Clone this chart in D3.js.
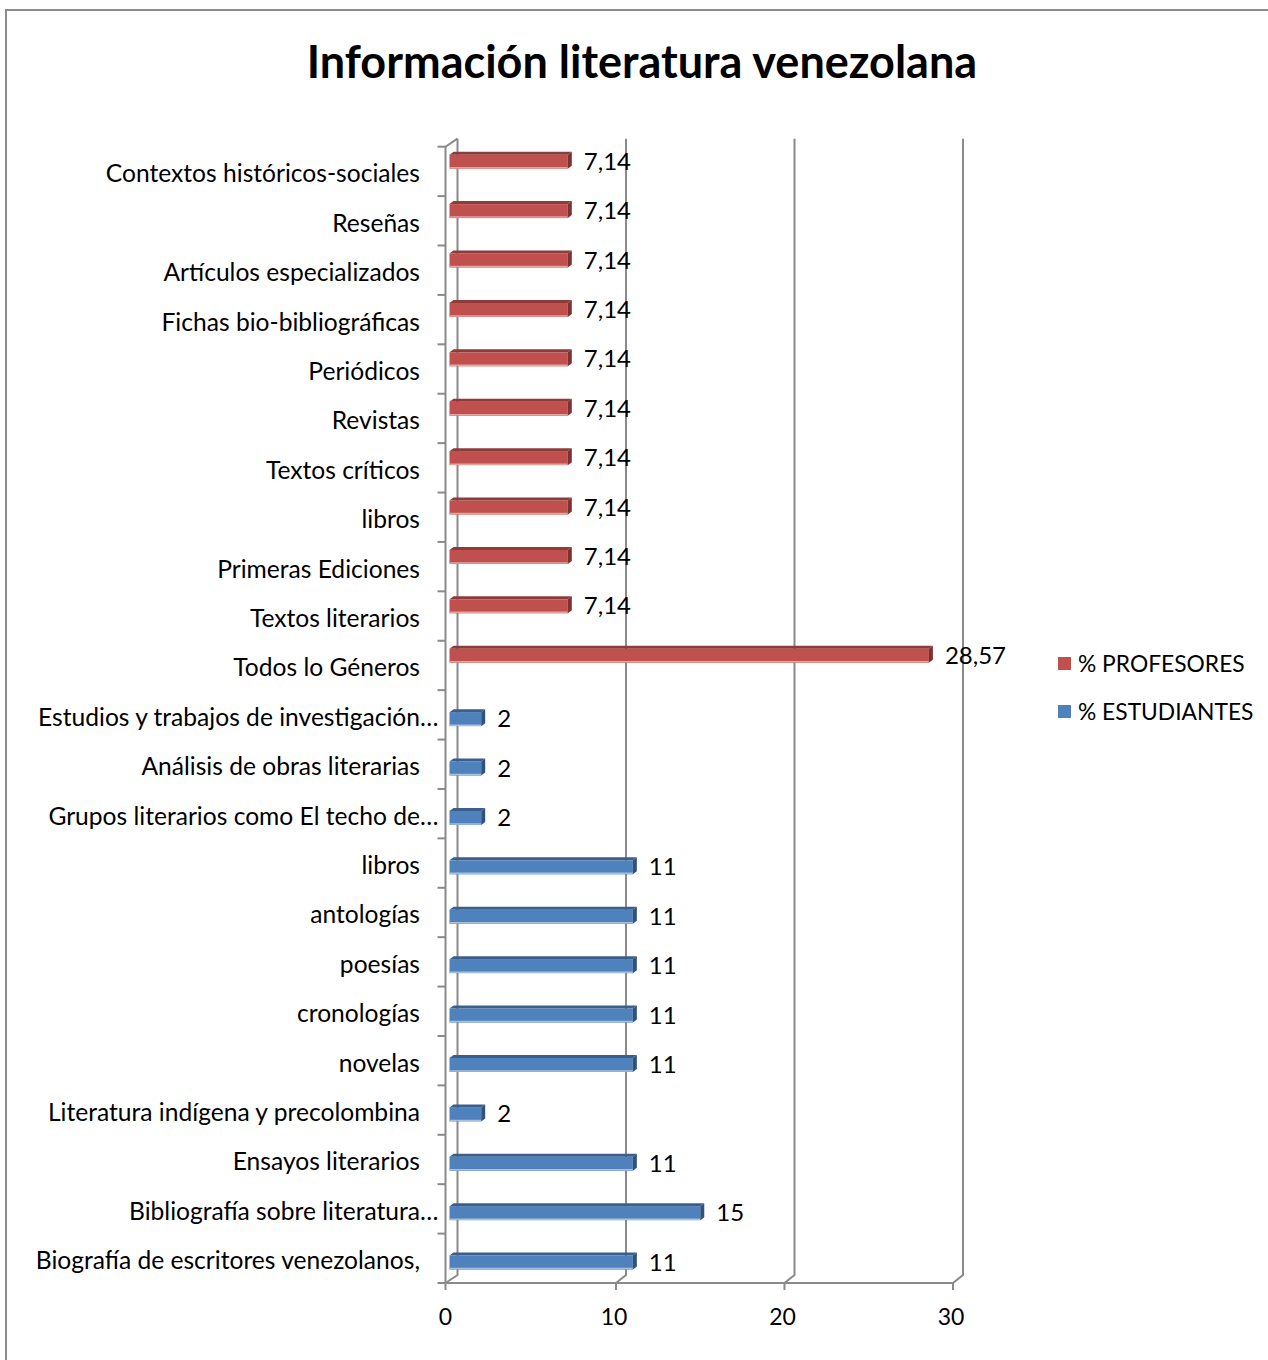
<!DOCTYPE html>
<html><head><meta charset="utf-8">
<script src="https://cdn.jsdelivr.net/npm/d3@7"></script>
<style>body{margin:0;background:#fff}svg{display:block}text{font-family:Lato,"Open Sans",sans-serif;fill:#000}</style>
</head><body><svg id="c" width="1268" height="1360"></svg>
<script>
const categories = ["Contextos históricos-sociales","Reseñas","Artículos especializados","Fichas bio-bibliográficas","Periódicos","Revistas","Textos críticos","libros","Primeras Ediciones","Textos literarios","Todos lo Géneros","Estudios y trabajos de investigación…","Análisis de obras literarias","Grupos literarios como El techo de…","libros","antologías","poesías","cronologías","novelas","Literatura indígena y precolombina","Ensayos literarios","Bibliografía sobre literatura…","Biografía de escritores venezolanos,"];
const profesores = [7.14,7.14,7.14,7.14,7.14,7.14,7.14,7.14,7.14,7.14,28.57,null,null,null,null,null,null,null,null,null,null,null,null];
const estudiantes = [null,null,null,null,null,null,null,null,null,null,null,2,2,2,11,11,11,11,11,2,11,15,11];
const seriesNames = ["% PROFESORES","% ESTUDIANTES"];
const xTicks = [0,10,20,30];

const svg = d3.select("#c");
const colors = {front:["#C0504D","#4F81BD"], dark:["#8E3B39","#3A5F8C"], light:["#E4A3A1","#A7C0DE"]};
const x = d3.scaleLinear().domain([0,30]).range([447.5,953]);
const y = d3.scaleBand().domain(d3.range(categories.length)).range([146.7,1283]);
const ys = d3.scaleBand().domain([0,1]).range([8,36]);
const dx=10, dy=-8, bdx=4, bdy=-3;
const yTop=y.range()[0], yBot=y.range()[1];

// frame
svg.append("path").attr("d","M6,1360V10H1268").attr("fill","none").attr("stroke","#8c8c8c").attr("stroke-width",2);

// title
svg.append("text").attr("x",642).attr("y",78).attr("text-anchor","middle").attr("font-size",45).attr("font-weight","bold").text("Información literatura venezolana");

const grid = svg.append("g").attr("stroke","#8a8a8a").attr("stroke-width",2).attr("fill","none");
xTicks.forEach(t=>{
  grid.append("path").attr("d",`M${x(t)+dx},${yTop+dy}V${yBot+dy}L${x(t)-(t===0?2:0)},${yBot}`);
});
grid.append("path").attr("d",`M${x(0)-2},${yBot}V${yTop}L${x(0)+dx},${yTop+dy}`);
grid.append("path").attr("d",`M${x(0)-2},${yBot}H${x(30)}`);
d3.range(categories.length+1).forEach(i=>{
  const yy = i<categories.length? y(i): yBot;
  grid.append("path").attr("d",`M${x(0)-10},${yy}H${x(0)-2}`);
});
xTicks.forEach(t=>grid.append("path").attr("d",`M${x(t)-(t===0?2:0)},${yBot}V${yBot+7}`));

// x tick labels
svg.append("g").selectAll("text").data(xTicks).join("text")
  .attr("x",d=>x(d)-2).attr("y",1325).attr("text-anchor","middle").attr("font-size",23).text(d=>d);

// category labels
const lab = svg.append("g");
categories.forEach((c,i)=>{
  const yy = y(i)+y.bandwidth()/2+11;
  if(c.endsWith("…")){
    lab.append("text").attr("x",420).attr("y",yy).attr("text-anchor","end").attr("font-size",24.6).text(c.slice(0,-1));
    lab.append("text").attr("x",420).attr("y",yy).attr("font-size",24.6).text("…");
  } else {
    lab.append("text").attr("x",420).attr("y",yy).attr("text-anchor","end").attr("font-size",24.6).text(c);
  }
});

// bars
const fmt = v => Number.isInteger(v) ? String(v) : d3.format(".2f")(v).replace(".",",");
[profesores,estudiantes].forEach((vals,s)=>{
  const g = svg.append("g");
  vals.forEach((v,i)=>{
    if(v==null) return;
    const x0 = x(0)+2, x1 = x(v);
    const yt = y(i)+ys(s), yb = yt+ys.bandwidth();
    g.append("rect").attr("x",x0).attr("y",yt).attr("width",x1-x0).attr("height",yb-yt).attr("fill",colors.front[s]);
    g.append("path").attr("d",`M${x0},${yb-1}H${x1}`).attr("stroke",colors.light[s]).attr("stroke-width",1.5);
    g.append("path").attr("d",`M${x0},${yt}L${x0+bdx},${yt+bdy}H${x1+bdx}L${x1},${yt}Z`).attr("fill",colors.dark[s]);
    g.append("path").attr("d",`M${x1},${yt}L${x1+bdx},${yt+bdy}V${yb+bdy}L${x1},${yb}Z`).attr("fill",d3.color(colors.dark[s]).darker(0.4));
    g.append("text").attr("x",x1+bdx+12).attr("y",(yt+yb)/2+8).attr("font-size",24).text(fmt(v));
  });
});

// legend
const leg = svg.append("g");
seriesNames.forEach((n,s)=>{
  const ly = 664 + s*48;
  leg.append("rect").attr("x",1058).attr("y",ly-7).attr("width",13).attr("height",13).attr("fill",colors.front[s]);
  leg.append("text").attr("x",1078).attr("y",ly+8).attr("font-size",22.8).text(n);
});
</script></body></html>
